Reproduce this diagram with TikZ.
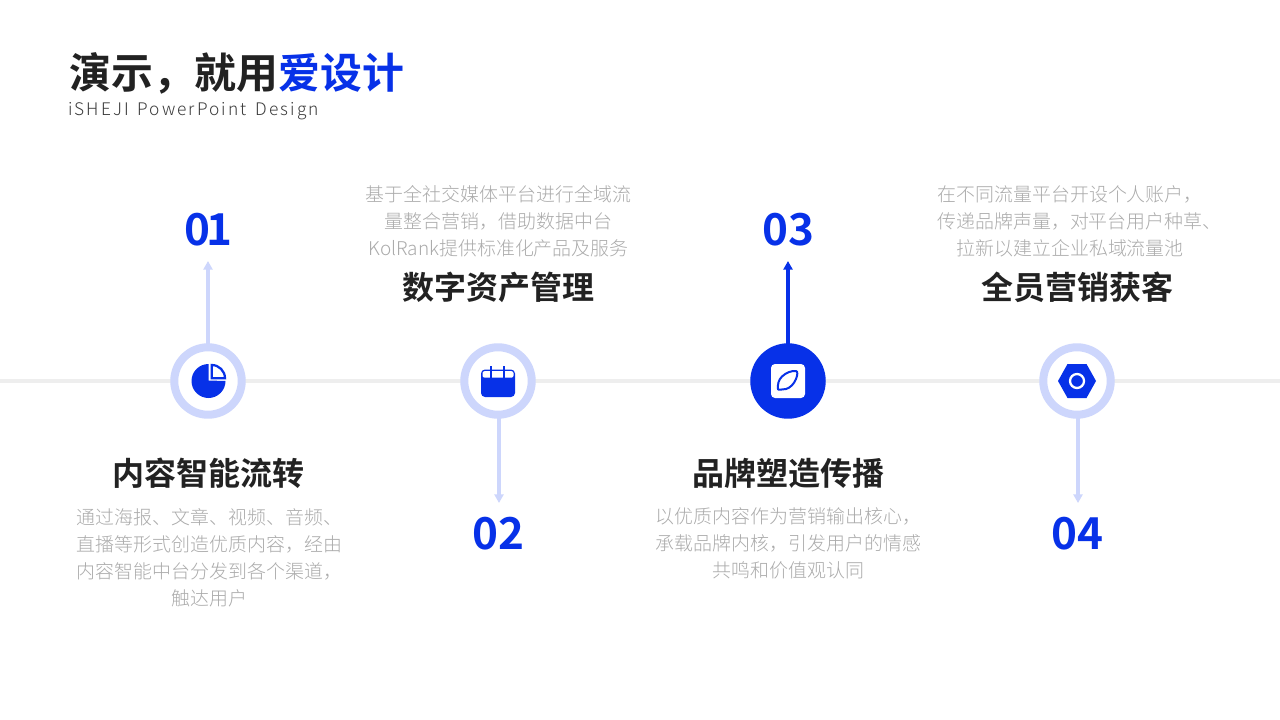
\documentclass[tikz,border=0pt]{standalone}
\usepackage{fontspec}
\usetikzlibrary{arrows.meta}
\setmainfont{Noto Sans CJK SC}
\newfontfamily\cjkbold{Noto Sans CJK SC Bold}
\newfontfamily\cjklight{Noto Sans CJK SC Light}
\newfontfamily\latinsub[LetterSpace=12]{Noto Sans CJK SC Light}
\definecolor{brandblue}{HTML}{0731E8}
\definecolor{ringblue}{HTML}{CDD6FC}
\definecolor{inkdark}{HTML}{222222}
\definecolor{subink}{HTML}{3A3A3A}
\definecolor{bodygray}{HTML}{ABABAB}
\definecolor{railgray}{HTML}{EEEEEE}
\tikzset{
  ringnode/.style={circle,draw=ringblue,line width=6pt,fill=white,minimum size=50.6pt,inner sep=0pt,outer sep=0pt},
  solidnode/.style={circle,draw=brandblue,line width=6pt,fill=brandblue,minimum size=50.6pt,inner sep=0pt,outer sep=0pt},
  headtext/.style={font=\cjkbold\fontsize{24}{28}\selectfont,text=inkdark,inner sep=0pt},
  numtext/.style={font=\cjkbold\fontsize{33}{38}\selectfont,text=brandblue,inner sep=0pt},
  bodytext/.style={font=\cjklight\fontsize{14.2}{20.25}\selectfont,text=bodygray,align=center,inner sep=0pt},
  lightarrow/.style={draw=ringblue,line width=2.3pt,-{Triangle[length=6.5pt,width=6.8pt]}},
  bluearrow/.style={draw=brandblue,line width=2.3pt,-{Triangle[length=6.5pt,width=6.8pt]}},
}
\begin{document}
\begin{tikzpicture}[x=0.75pt,y=-0.75pt]
\useasboundingbox (0,0) rectangle (1280,720);
\fill[white] (0,0) rectangle (1280,720);
\coordinate (railL) at (0,381);
\coordinate (railR) at (1280,381);
\draw[railgray,line width=3pt] (railL) -- (railR);

\node[anchor=west,inner sep=0pt,font=\cjkbold\fontsize{31.4}{36}\selectfont,text=inkdark] (title) at (69,73) {演示，就用\textcolor{brandblue}{爱设计}};
\node[anchor=west,inner sep=0pt,font=\latinsub\fontsize{13}{16}\selectfont,text=subink] (subtitle) at (68,111.5) {iSHEJI\hspace{2pt} PowerPoint\hspace{2pt} Design};

\node[ringnode] (c1) at (208,381) {};
\node[ringnode] (c2) at (498,381) {};
\node[solidnode] (c3) at (788,381) {};
\node[ringnode] (c4) at (1077,381) {};

\node[numtext] (n1) at (208.5,229.5) {0\kern-3.5pt 1};
\node[numtext] (n2) at (498,533.5) {02};
\node[numtext] (n3) at (788,229.5) {03};
\node[numtext] (n4) at (1077,533.5) {04};

\coordinate (e1) at (208,261);
\coordinate (e2) at (499,503);
\coordinate (e3) at (788,261);
\coordinate (e4) at (1078,503);
\draw[lightarrow] (c1.north) -- (e1);
\draw[lightarrow] (c2.south -| e2) -- (e2);
\draw[bluearrow] (c3.north) -- (e3);
\draw[lightarrow] (c4.south -| e4) -- (e4);

\node[headtext] (h1) at (208,473) {内容智能流转};
\node[headtext] (h2) at (498,287) {数字资产管理};
\node[headtext] (h3) at (788,473) {品牌塑造传播};
\node[headtext] (h4) at (1077,287) {全员营销获客};

\node[bodytext] (b1) at (209.5,558) {通过海报、文章、视频、音频、\\直播等形式创造优质内容，经由\\内容智能中台分发到各个渠道，\\触达用户};
\node[bodytext] (b2) at (498.5,221) {基于全社交媒体平台进行全域流\\量整合营销，借助数据中台\\KolRank提供标准化产品及服务};
\node[bodytext] (b3) at (788.5,543.5) {以优质内容作为营销输出核心，\\承载品牌内核，引发用户的情感\\共鸣和价值观认同};
\node[bodytext] (b4) at (1079.5,221) {在不同流量平台开设个人账户，\hspace*{14pt}\\传递品牌声量，对平台用户种草、\\拉新以建立企业私域流量池\hspace*{14pt}};

% icon 1: pie
\fill[brandblue] (208.5,380.5) -- (208.5,364) arc[start angle=-90,delta angle=-270,radius=17] -- cycle;
\draw[brandblue,line width=1.7pt,fill=white,line join=miter] (211.7,378.3) -- (211.7,365) arc[start angle=-90,end angle=0,radius=13.3] -- cycle;

% icon 2: calendar
\fill[brandblue,rounded corners=3pt] (481,369.5) rectangle (515,397);
\fill[white,rounded corners=1.5pt] (482.5,377.6) -- (482.5,371.2) -- (513.5,371.2) -- (513.5,377.6) -- cycle;
\fill[brandblue] (490.2,366) rectangle (492,377.8);
\fill[brandblue] (503.4,366) rectangle (505.2,377.8);

% icon 3: leaf
\fill[white,rounded corners=3pt] (771,364) rectangle (805,398);
\draw[brandblue,line width=1.5pt,line join=round] (778,389.5) .. controls (777.5,384) and (778.5,380) .. (782,376.5) .. controls (786,372.5) and (792,370.5) .. (796,371) .. controls (798,371.5) and (797.5,375) .. (796,379) .. controls (794,384) and (790,388) .. (786,389) .. controls (783,389.7) and (780,389.5) .. (778,389.5) -- cycle;

% icon 4: hexagon
\fill[brandblue] (1058,381) -- (1067.5,364) -- (1086.5,364) -- (1096,381) -- (1086.5,398) -- (1067.5,398) -- cycle;
\draw[white,line width=1.7pt] (1077,381) circle[radius=7];
\end{tikzpicture}
\end{document}
